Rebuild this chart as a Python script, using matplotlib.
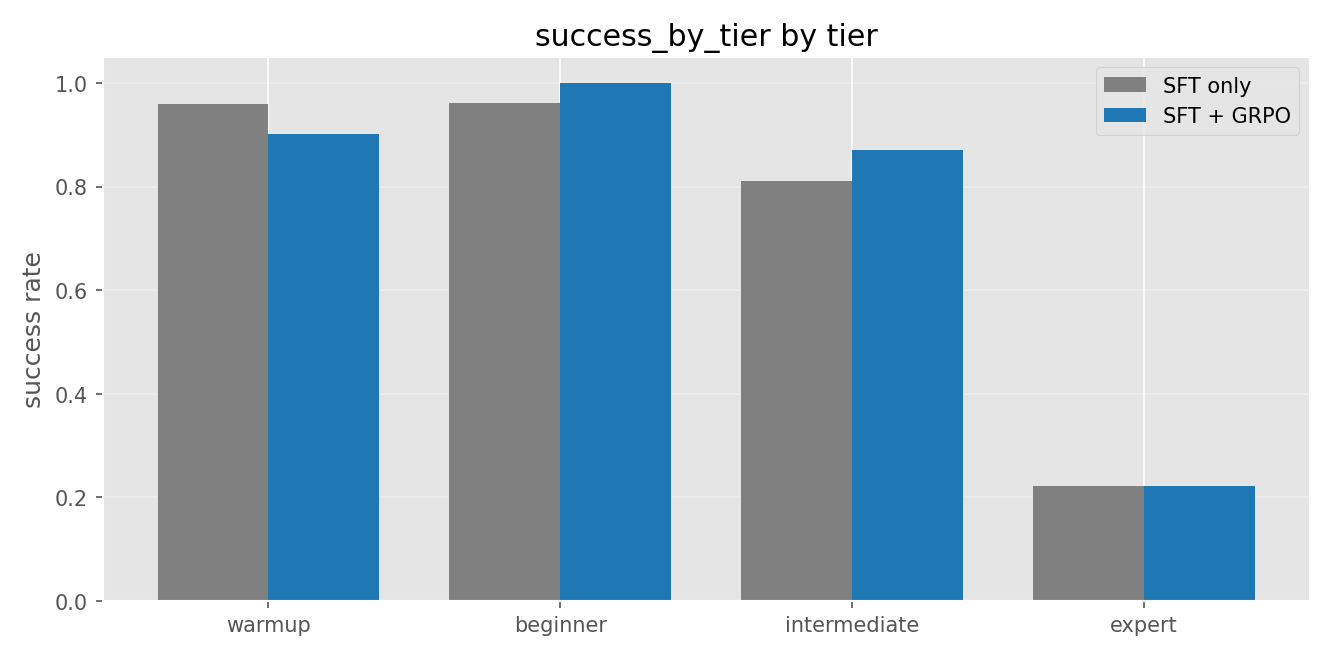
import numpy as np
import matplotlib
matplotlib.use("Agg")
import matplotlib.pyplot as plt

plt.style.use("ggplot")

tiers = ["warmup", "beginner", "intermediate", "expert"]
sft_only = [0.960, 0.962, 0.810, 0.221]
sft_grpo = [0.902, 1.000, 0.870, 0.221]

x = np.arange(len(tiers))
width = 0.38

fig, ax = plt.subplots(figsize=(8.88, 4.393), dpi=150)
ax.bar(x - width / 2, sft_only, width, label="SFT only", color="#808080")
ax.bar(x + width / 2, sft_grpo, width, label="SFT + GRPO", color="#1f77b4")

ax.set_xticks(x)
ax.set_xticklabels(tiers)
ax.set_ylabel("success rate")
ax.set_title("success_by_tier by tier")
ax.set_ylim(0, 1.05)
ax.grid(axis="y", alpha=0.3)
ax.legend(loc="upper right", facecolor="#e5e5e5", edgecolor="#cccccc")

fig.tight_layout()
fig.savefig("out.png", dpi=150)
